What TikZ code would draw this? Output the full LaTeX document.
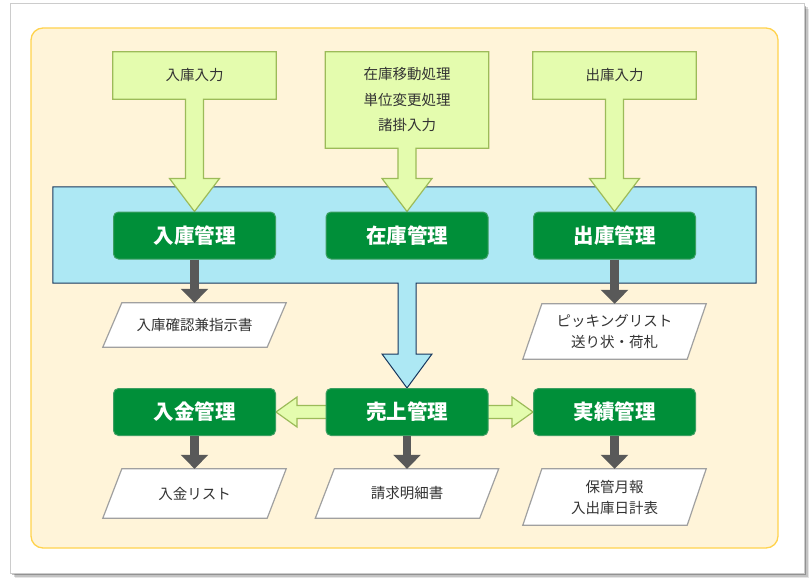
\documentclass[tikz,border=0pt]{standalone}
\usepackage{fontspec}
\setmainfont{Noto Sans CJK JP}
\usetikzlibrary{calc,arrows.meta}
\pgfdeclarelayer{bg}
\pgfdeclarelayer{mid}
\pgfsetlayers{bg,mid,main}
\definecolor{cardborder}{HTML}{CCCCCC}
\definecolor{areafill}{HTML}{FFF4D9}
\definecolor{areadraw}{HTML}{FFD34E}
\definecolor{infill}{HTML}{E4FCAE}
\definecolor{indraw}{HTML}{9CBB59}
\definecolor{bandfill}{HTML}{ADE8F4}
\definecolor{banddraw}{HTML}{17375E}
\definecolor{mgfill}{HTML}{008F39}
\definecolor{mgdraw}{HTML}{3D9F62}
\definecolor{darrow}{HTML}{595959}
\definecolor{docdraw}{HTML}{A0A0A0}
\definecolor{txt}{HTML}{333333}
\newcommand\inarrow[2]{\path[blockin] (#1.north west) -- (#1.north east) -- (#1.south east) -- ($(#1.south)+(9,0)$) -- ($(#2.north)+(9,-33)$) -- ($(#2.north)+(25,-33)$) -- (#2.north) -- ($(#2.north)+(-25,-33)$) -- ($(#2.north)+(-9,-33)$) -- ($(#1.south)+(-9,0)$) -- (#1.south west) -- cycle;}
\newcommand\docshape[1]{\path[docst] ($(#1.north west)+(9.5,0)$) -- ($(#1.north east)+(9.5,0)$) -- ($(#1.south east)+(-9.5,0)$) -- ($(#1.south west)+(-9.5,0)$) -- cycle;}
\begin{document}
\begin{tikzpicture}[x=1pt,y=-1pt,
  inbox/.style={minimum width=163pt,minimum height=47pt,inner sep=0pt,text=txt,font=\fontsize{14.5}{25.5}\selectfont,align=center},
  mgmt/.style={fill=mgfill,draw=mgdraw,line width=1pt,rounded corners=5pt,minimum width=162pt,minimum height=47pt,inner sep=0pt,text=white,font=\fontsize{20.5}{24}\selectfont\bfseries},
  doc/.style={minimum width=164pt,inner sep=0pt,text=txt,font=\fontsize{14.5}{21}\selectfont,align=center},
  blockin/.style={fill=infill,draw=indraw,line width=1.2pt,line join=miter},
  bandst/.style={fill=bandfill,draw=banddraw,line width=1pt,line join=miter},
  docst/.style={fill=white,draw=docdraw,line width=1.2pt},
  grayarrow/.style={draw=darrow,line width=8.5pt,-{Triangle[width=27pt,length=14pt]}}]
\useasboundingbox (0,0) rectangle (810,580);
% nodes
\node[inbox] (in1) at (194.5,75.5) {入庫入力};
\node[inbox,minimum height=96pt] (in2) at (407,100) {在庫移動処理\\単位変更処理\\諸掛入力};
\node[inbox] (in3) at (614.5,75.5) {出庫入力};
\node[minimum width=703pt,minimum height=96pt,inner sep=0pt] (band) at (404.5,235) {};
\node[mgmt] (m1) at (194.5,235.5) {入庫管理};
\node[mgmt] (m2) at (407,235.5) {在庫管理};
\node[mgmt] (m3) at (614.5,235.5) {出庫管理};
\node[mgmt] (m4) at (194.5,412) {入金管理};
\node[mgmt] (m5) at (407,412) {売上管理};
\node[mgmt] (m6) at (614.5,412) {実績管理};
\node[doc,minimum height=44pt] (d1) at (194.5,325) {入庫確認兼指示書};
\node[doc,minimum height=55pt] (d3) at (614.5,331.5) {ピッキングリスト\\送り状・荷札};
\node[doc,minimum height=49pt] (d4) at (194.5,493.5) {入金リスト};
\node[doc,minimum height=49pt] (d5) at (407,493.5) {請求明細書};
\node[doc,minimum height=56pt] (d6) at (614.5,497) {保管月報\\入出庫日計表};
% background
\begin{pgfonlayer}{bg}
  \fill[black,opacity=0.10] (15,9) rectangle (809,578);
  \fill[black,opacity=0.15] (13.5,7.5) rectangle (807.5,576.5);
  \fill[black,opacity=0.25] (12,6) rectangle (806,575);
  \draw[fill=white,draw=cardborder,line width=1pt] (10,4) rectangle (804,573);
  \draw[fill=areafill,draw=areadraw,line width=1.3pt,rounded corners=12pt] (31,28) rectangle (778,548);
  \coordinate (bs) at ($(band.south west)!(m5.north)!(band.south east)$);
  \path[bandst] (band.north west) -- (band.north east) -- (band.south east) -- ($(bs)+(9,0)$) -- ($(m5.north)+(9,-34)$) -- ($(m5.north)+(25,-34)$) -- (m5.north) -- ($(m5.north)+(-25,-34)$) -- ($(m5.north)+(-9,-34)$) -- ($(bs)+(-9,0)$) -- (band.south west) -- cycle;
\end{pgfonlayer}
\begin{pgfonlayer}{mid}
  \inarrow{in1}{m1}
  \inarrow{in2}{m2}
  \inarrow{in3}{m3}
  \docshape{d1}
  \docshape{d3}
  \docshape{d4}
  \docshape{d5}
  \docshape{d6}
  \path[blockin] ($(m5.west)+(1,-6.5)$) -- ($(m4.east)+(21,-6.5)$) -- ($(m4.east)+(21,-15)$) -- (m4.east) -- ($(m4.east)+(21,15)$) -- ($(m4.east)+(21,6.5)$) -- ($(m5.west)+(1,6.5)$);
  \path[blockin] ($(m5.east)+(-1,-6.5)$) -- ($(m6.west)+(-21,-6.5)$) -- ($(m6.west)+(-21,-15)$) -- (m6.west) -- ($(m6.west)+(-21,15)$) -- ($(m6.west)+(-21,6.5)$) -- ($(m5.east)+(-1,6.5)$);
\end{pgfonlayer}
% gray arrows
\draw[grayarrow] (m1.south) -- (d1.north);
\draw[grayarrow] (m3.south) -- (d3.north);
\draw[grayarrow] (m4.south) -- (d4.north);
\draw[grayarrow] (m5.south) -- (d5.north);
\draw[grayarrow] (m6.south) -- (d6.north);
\end{tikzpicture}
\end{document}
